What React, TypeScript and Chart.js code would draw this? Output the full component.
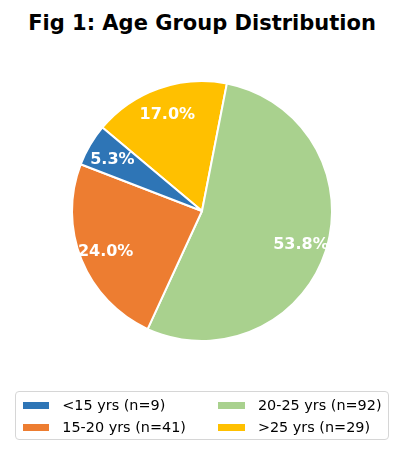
import { useEffect, useRef } from 'react'
import { Chart, ChartConfiguration, Plugin, registerables } from 'chart.js'

Chart.register(...registerables)

// values
const groups = ['<15 yrs', '15-20 yrs', '20-25 yrs', '>25 yrs']
const counts = [9, 41, 92, 29]
const colors = ['#2e75b6', '#ed7d31', '#a9d18e', '#ffc000']

const FONT = '"DejaVu Sans", sans-serif'
const total = counts.reduce((a, b) => a + b, 0)
const legendLabels = groups.map((g, i) => `${g} (n=${counts[i]})`)

// matplotlib draws counter-clockwise, Chart.js clockwise: feed the slices reversed
const order = groups.map((_, i) => groups.length - 1 - i)

const pctLabels: Plugin<'pie'> = {
  id: 'pctLabels',
  afterDatasetsDraw(chart) {
    const ctx = chart.ctx
    const meta = chart.getDatasetMeta(0)
    ctx.save()
    ctx.fillStyle = '#ffffff'
    ctx.font = `bold 16px ${FONT}`
    ctx.textAlign = 'center'
    ctx.textBaseline = 'middle'
    meta.data.forEach((el: any, i) => {
      const { x, y, startAngle, endAngle, outerRadius } = el.getProps(['x', 'y', 'startAngle', 'endAngle', 'outerRadius'], true)
      const mid = (startAngle + endAngle) / 2
      const r = outerRadius * 0.8
      const value = counts[order[i]]
      // +2: matplotlib centres on the text box incl. descent
      ctx.fillText(`${((value / total) * 100).toFixed(1)}%`, x + Math.cos(mid) * r, y + Math.sin(mid) * r + 2)
    })
    ctx.restore()
  }
}

export default function App() {
  const canvasRef = useRef<HTMLCanvasElement>(null)
  const chartRef = useRef<Chart | null>(null)

  useEffect(() => {
    if (!canvasRef.current) return
    if (chartRef.current) chartRef.current.destroy()

    const config: ChartConfiguration<'pie'> = {
      type: 'pie',
      data: {
        labels: order.map(i => groups[i]),
        datasets: [{
          data: order.map(i => counts[i]),
          backgroundColor: order.map(i => colors[i]),
          borderColor: '#ffffff',
          borderWidth: 2,
          radius: 130,
          hoverOffset: 0
        }]
      },
      options: {
        responsive: false,
        animation: false,
        rotation: -50,
        layout: { padding: { left: 72, right: 72, top: 81, bottom: 114 } },
        plugins: {
          legend: { display: false },
          tooltip: { enabled: false },
          title: { display: false }
        },
        events: []
      },
      plugins: [pctLabels]
    }

    chartRef.current = new Chart(canvasRef.current, config)
    return () => {
      if (chartRef.current) {
        chartRef.current.destroy()
        chartRef.current = null
      }
    }
  }, [])

  const legendPos = [
    { x: 7.7, y: 13 },
    { x: 7.7, y: 35.3 },
    { x: 203.3, y: 13 },
    { x: 203.3, y: 35.3 }
  ]

  return (
    <div style={{ position: 'absolute', left: 0, top: 0, width: 404, height: 455, background: '#fff', fontFamily: FONT }}>
      <div style={{ position: 'absolute', left: 0, top: 10.5, width: 404, textAlign: 'center', fontWeight: 'bold', fontSize: 21, lineHeight: '24px', color: '#000' }}>
        Fig 1: Age Group Distribution
      </div>
      <canvas ref={canvasRef} width={404} height={455} style={{ position: 'absolute', left: 0, top: 0 }} />
      <div style={{ position: 'absolute', left: 15, top: 391, width: 372, height: 47, border: '1px solid #d6d6d6', borderRadius: 4, background: 'rgba(255,255,255,0.8)' }}>
        {legendLabels.map((label, i) => (
          <div key={label}>
            <div style={{ position: 'absolute', left: legendPos[i].x - 1, top: legendPos[i].y - 3.5, width: 26.7, height: 7, background: colors[i] }} />
            <div style={{ position: 'absolute', left: legendPos[i].x + 38.6, top: legendPos[i].y - 11, fontSize: 14.4, lineHeight: '22px', color: '#000', whiteSpace: 'nowrap' }}>
              {label}
            </div>
          </div>
        ))}
      </div>
    </div>
  )
}
